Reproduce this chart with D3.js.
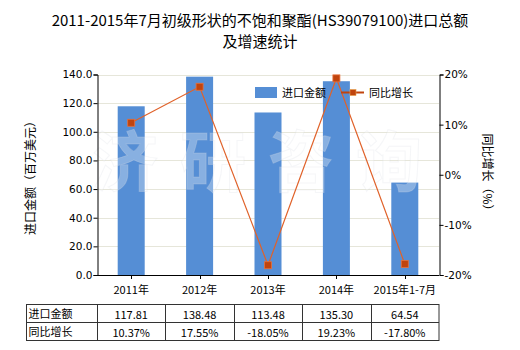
<!DOCTYPE html>
<html>
<head>
<meta charset="utf-8">
<script src="https://cdn.jsdelivr.net/npm/d3@7"></script>
<style>
  body { margin: 0; background: #fff; }
  svg { font-family: "Microsoft YaHei", "Noto Sans CJK SC", sans-serif; }
</style>
</head>
<body>
<svg id="chart" width="520" height="350"></svg>
<script>
// data
const categories = ['2011年', '2012年', '2013年', '2014年', '2015年1-7月'];
const importValues = [117.81, 138.48, 113.48, 135.30, 64.54];
const growthValues = [10.37, 17.55, -18.05, 19.23, -17.80];
const leftTicks = [0, 20, 40, 60, 80, 100, 120, 140];
const rightTicks = [-20, -10, 0, 10, 20];
const rowNames = ['进口金额', '同比增长'];

const svg = d3.select('#chart');
const margin = {left: 97, right: 81, top: 74.5, bottom: 75};
const W = 520, H = 350;
const plotW = W - margin.left - margin.right;
const plotH = H - margin.top - margin.bottom;

const x = d3.scaleBand().domain(categories).range([margin.left, margin.left + plotW]).paddingInner(0.6).paddingOuter(0.3);
const step = plotW / categories.length;
const xc = d => margin.left + step * (categories.indexOf(d) + 0.5);
const barW = 27;
const y = d3.scaleLinear().domain([0, 140]).range([margin.top + plotH, margin.top]);
const y2 = d3.scaleLinear().domain([-20, 20]).range([margin.top + plotH, margin.top]);

// title
const title = svg.append('g').attr('fill', '#000').attr('font-size', 15).attr('text-anchor', 'middle');
title.append('text').attr('x', 260).attr('y', 26).text('2011-2015年7月初级形状的不饱和聚酯(HS39079100)进口总额');
title.append('text').attr('x', 260).attr('y', 47).text('及增速统计');

// grid
svg.append('g').selectAll('line').data(leftTicks.slice(1)).join('line')
  .attr('x1', margin.left).attr('x2', margin.left + plotW)
  .attr('y1', d => Math.round(y(d)) + 0.5).attr('y2', d => Math.round(y(d)) + 0.5)
  .attr('stroke', '#e6e6da').attr('stroke-width', 1);

// bars
svg.append('g').selectAll('rect').data(importValues).join('rect')
  .attr('x', (d, i) => xc(categories[i]) - barW / 2)
  .attr('width', barW)
  .attr('y', d => y(d))
  .attr('height', d => y(0) - y(d))
  .attr('fill', '#558ed5');

// watermark
svg.append('text').attr('x', 268).attr('y', 186).attr('text-anchor', 'middle')
  .attr('font-size', 66).attr('font-weight', 'bold').attr('letter-spacing', 22)
  .attr('fill', '#ffffff').attr('fill-opacity', 0.3)
  .attr('stroke', '#d8dde4').attr('stroke-opacity', 0.25)
  .text('济研咨询');

// axes
const leftAxis = d3.axisLeft(y).tickValues(leftTicks).tickFormat(d3.format('.1f')).tickSize(4);
const gl = svg.append('g').attr('transform', `translate(${margin.left + 0.5},0)`).call(leftAxis);
const rightAxis = d3.axisRight(y2).tickValues(rightTicks).tickFormat(d => d + '%').tickSize(4);
const gr = svg.append('g').attr('transform', `translate(${margin.left + plotW + 0.5},0)`).call(rightAxis);
[gl, gr].forEach(g => {
  g.select('.domain').attr('stroke', '#000');
  g.selectAll('.tick line').attr('stroke', '#000');
  g.selectAll('.tick text').attr('fill', '#000').attr('font-size', 11)
    .attr('font-family', '"DejaVu Sans", sans-serif').style('font-size', '10.5px');
});
gl.selectAll('.tick text').attr('x', -5);
gr.selectAll('.tick text').attr('x', 5);

// x axis
svg.append('line').attr('x1', margin.left).attr('x2', margin.left + plotW)
  .attr('y1', y(0) + 0.5).attr('y2', y(0) + 0.5).attr('stroke', '#000');
svg.append('g').selectAll('line').data(categories).join('line')
  .attr('x1', d => Math.round(xc(d)) + 0.5).attr('x2', d => Math.round(xc(d)) + 0.5)
  .attr('y1', y(0)).attr('y2', y(0) + 4).attr('stroke', '#000');
svg.append('g').selectAll('text').data(categories).join('text')
  .attr('x', d => xc(d)).attr('y', 294).attr('text-anchor', 'middle')
  .attr('font-size', 11).attr('fill', '#000').text(d => d);

// axis titles
svg.append('text').attr('transform', 'translate(35,175) rotate(-90)').attr('text-anchor', 'middle')
  .attr('font-size', 12).attr('fill', '#000').text('进口金额（百万美元）');
svg.append('text').attr('transform', 'translate(483,175) rotate(90)').attr('text-anchor', 'middle')
  .attr('font-size', 12).attr('fill', '#000').text('同比增长（%）');

// growth line
const line = d3.line().x((d, i) => xc(categories[i])).y(d => y2(d));
svg.append('path').datum(growthValues).attr('d', line)
  .attr('fill', 'none').attr('stroke', '#e0622a').attr('stroke-width', 1.2);
svg.append('g').selectAll('rect').data(growthValues).join('rect')
  .attr('x', (d, i) => xc(categories[i]) - 3.5).attr('y', d => y2(d) - 3.5)
  .attr('width', 7).attr('height', 7)
  .attr('fill', '#c0440e').attr('stroke', '#e8703a').attr('stroke-width', 0.8);

// legend
const lg = svg.append('g');
lg.append('rect').attr('x', 255).attr('y', 87).attr('width', 22).attr('height', 11).attr('fill', '#558ed5');
lg.append('text').attr('x', 282).attr('y', 97).attr('font-size', 11).attr('fill', '#000').text('进口金额');
lg.append('line').attr('x1', 341).attr('x2', 364).attr('y1', 92.5).attr('y2', 92.5).attr('stroke', '#c0440e').attr('stroke-width', 2);
lg.append('rect').attr('x', 350).attr('y', 89.5).attr('width', 6).attr('height', 6).attr('fill', '#c0440e').attr('stroke', '#e8a04a').attr('stroke-width', 0.6);
lg.append('text').attr('x', 369).attr('y', 97).attr('font-size', 11).attr('fill', '#000').text('同比增长');

// data table
const tLeft = 26.5, tTop = 304.5, rowH = 18;
const tRight = margin.left + plotW;
const colEdges = d3.range(categories.length + 1).map(i => margin.left + step * i);
const tg = svg.append('g').attr('stroke', '#333').attr('stroke-width', 1);
tg.append('rect').attr('x', tLeft).attr('y', tTop).attr('width', tRight - tLeft).attr('height', rowH * 2).attr('fill', 'none');
tg.append('line').attr('x1', tLeft).attr('x2', tRight).attr('y1', tTop + rowH).attr('y2', tTop + rowH);
tg.selectAll('line.v').data(colEdges.slice(0, -1)).join('line').attr('class', 'v')
  .attr('x1', d => Math.round(d) + 0.5).attr('x2', d => Math.round(d) + 0.5)
  .attr('y1', tTop).attr('y2', tTop + rowH * 2);
const rows = [importValues.map(d => d.toFixed(2)), growthValues.map(d => d.toFixed(2) + '%')];
rowNames.forEach((name, r) => {
  svg.append('text').attr('x', tLeft + 2).attr('y', tTop + rowH * r + 13.5)
    .attr('font-size', 11).attr('fill', '#000').text(name);
  svg.append('g').selectAll('text').data(rows[r]).join('text')
    .attr('x', (d, i) => xc(categories[i])).attr('y', tTop + rowH * r + 14)
    .attr('text-anchor', 'middle').attr('font-size', 11).attr('fill', '#000').text(d => d);
});
</script>
</body>
</html>
